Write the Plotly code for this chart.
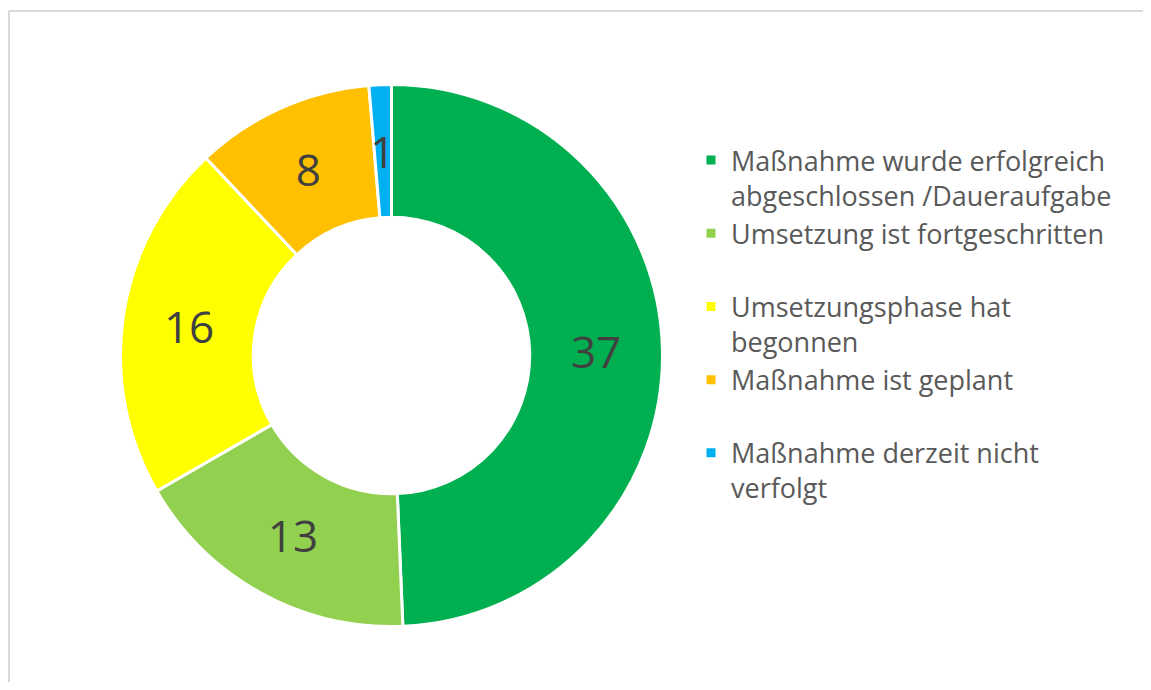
import math
import plotly.graph_objects as go

categories = [
    "Maßnahme wurde erfolgreich<br>abgeschlossen /Daueraufgabe",
    "Umsetzung ist fortgeschritten<br>\u00a0",
    "Umsetzungsphase hat<br>begonnen",
    "Maßnahme ist geplant<br>\u00a0",
    "Maßnahme derzeit nicht<br>verfolgt",
]
values = [37, 13, 16, 8, 1]
colors = ["#00B050", "#92D050", "#FFFF00", "#FFC000", "#00B0F0"]

OFF = 8  # page offset of the figure in the screenshot
W, H = 1151 - OFF, 690 - 2 * OFF
FONT = "Segoe UI, Open Sans, Noto Sans, sans-serif"
HOLE = 0.51

# pie domain in figure pixels
px0, px1 = 120.5 - OFF, 662.5 - OFF
py0, py1 = 84.5 - OFF, 626.5 - OFF
dom_x = [px0 / W, px1 / W]
dom_y = [1 - py1 / H, 1 - py0 / H]

# label text: small last slice is labelled via an annotation placed at mid-ring
texts = [str(v) for v in values[:-1]] + [""]

fig = go.Figure(
    go.Pie(
        labels=categories,
        values=values,
        sort=False,
        direction="clockwise",
        rotation=0,
        hole=HOLE,
        marker=dict(colors=colors, line=dict(color="white", width=3)),
        text=texts,
        texttemplate="%{text}",
        textposition="inside",
        insidetextorientation="horizontal",
        textfont=dict(size=44, color="#404040", family=FONT),
        domain=dict(x=dom_x, y=dom_y),
        hoverinfo="label+value",
    )
)

# annotation for the last (tiny) slice, placed from the data
total = sum(values)
frac_mid = (sum(values[:-1]) + values[-1] / 2) / total
ang = 2 * math.pi * frac_mid  # clockwise from 12 o'clock
cx = (dom_x[0] + dom_x[1]) / 2
cy = (dom_y[0] + dom_y[1]) / 2
R = (px1 - px0) / 2
rmid = R * (1 + HOLE) / 2
ax = cx + rmid * math.sin(ang) / W
ay = cy + rmid * math.cos(ang) / H

fig.add_annotation(
    x=ax, y=ay, xref="paper", yref="paper",
    text=str(values[-1]), showarrow=False,
    font=dict(size=44, color="#404040", family=FONT),
    xanchor="center", yanchor="middle",
)

fx = (9 - OFF) / W
fy = 1 - (11 - OFF) / H
frame = dict(color="#D9D9D9", width=2)

fig.update_layout(
    width=W,
    height=H,
    margin=dict(l=0, r=0, t=0, b=0),
    paper_bgcolor="white",
    plot_bgcolor="white",
    uniformtext=dict(minsize=44, mode="show"),
    showlegend=True,
    legend=dict(
        x=(731 - 40 - OFF) / W,
        xanchor="left",
        y=1 - 128 / H,
        yanchor="top",
        valign="top",
        font=dict(size=27, color="#595959", family=FONT),
        bgcolor="rgba(0,0,0,0)",
        tracegroupgap=0,
    ),
    shapes=[
        dict(type="line", xref="paper", yref="paper",
             x0=fx, x1=1.0, y0=fy, y1=fy, line=frame, layer="below"),
        dict(type="line", xref="paper", yref="paper",
             x0=fx, x1=fx, y0=0.0, y1=fy, line=frame, layer="below"),
    ],
)

fig.write_html("out.html")
